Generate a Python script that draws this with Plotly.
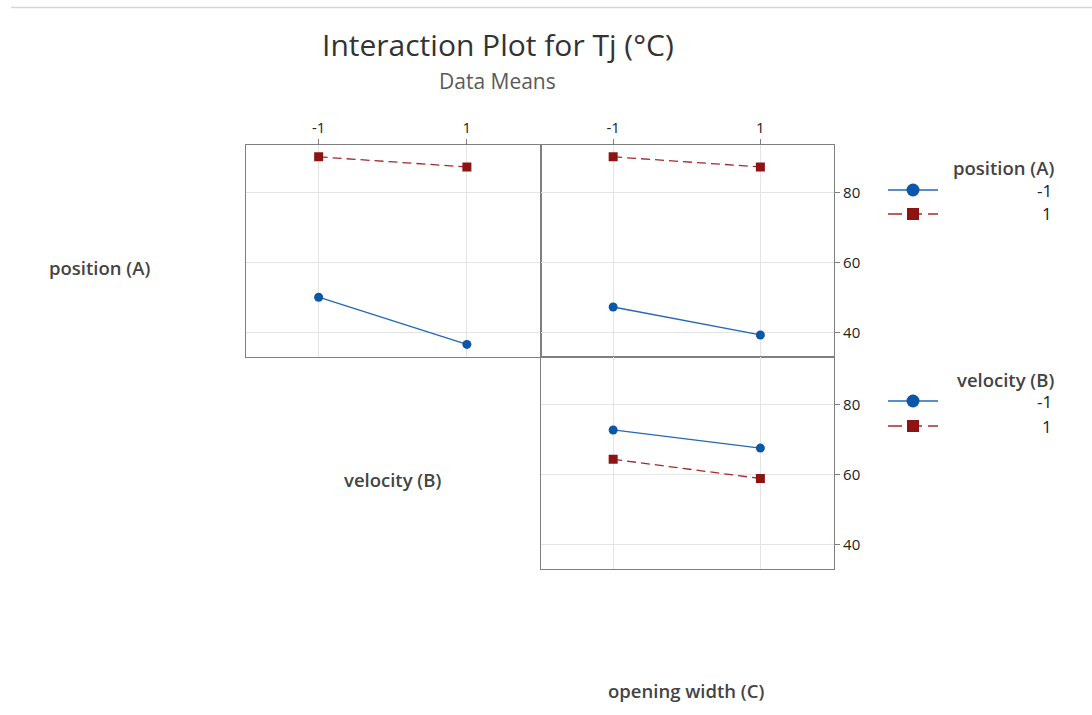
import plotly.graph_objects as go

# ---- data: factor levels and cell means of Tj (°C) ----
levels = [-1, 1]
level_labels = ["-1", "1"]

# position (A) traces across velocity (B)
ab_pos_lo = [50.1, 36.6]
ab_pos_hi = [90.3, 87.4]
# position (A) traces across opening width (C)
ac_pos_lo = [47.3, 39.3]
ac_pos_hi = [90.3, 87.4]
# velocity (B) traces across opening width (C)
bc_vel_lo = [72.8, 67.6]
bc_vel_hi = [64.4, 58.9]

y_ticks = [40, 60, 80]
y_range = [32.9, 93.6]
x_range = [-1.98, 2.0]

W, H = 1092, 715
FONT = "Open Sans"
BLUE = "#0a56a8"
BLUE_LINE = "#2568b5"
RED = "#8e1414"
RED_LINE = "#a42a2a"
BORDER = "#7f7f7f"
GRID = "#e4e4e4"


def px(x):
    return x / W


def py(y):
    return 1 - y / H


# panel edges in pixels
col_l = (246, 541)
col_r = (541, 834)
row_t = (145.3, 357.3)
row_b = (357.3, 569.3)

fig = go.Figure()


def add_pair(xa, ya, lo, hi):
    fig.add_trace(go.Scatter(
        x=levels, y=lo, xaxis=xa, yaxis=ya, mode="lines+markers",
        line=dict(color=BLUE_LINE, width=1.3),
        marker=dict(symbol="circle", size=9, color=BLUE),
        showlegend=False, hoverinfo="x+y"))
    fig.add_trace(go.Scatter(
        x=levels, y=hi, xaxis=xa, yaxis=ya, mode="lines+markers",
        line=dict(color=RED_LINE, width=1.3, dash="9px,5px"),
        marker=dict(symbol="square", size=9, color=RED),
        showlegend=False, hoverinfo="x+y"))


add_pair("x", "y", ab_pos_lo, ab_pos_hi)
add_pair("x2", "y2", ac_pos_lo, ac_pos_hi)
add_pair("x3", "y3", bc_vel_lo, bc_vel_hi)

# legend keys drawn on an overlay axis measured in pixels
legend_groups = [
    ("position (A)", 167, 190, 214),
    ("velocity (B)", 379, 401, 426),
]
key_x = [888, 938]
key_mid = 913
for title, ty, y_lo, y_hi in legend_groups:
    fig.add_trace(go.Scatter(
        x=key_x, y=[y_lo, y_lo], xaxis="x4", yaxis="y4", mode="lines",
        line=dict(color=BLUE_LINE, width=1.3), showlegend=False, hoverinfo="skip"))
    fig.add_trace(go.Scatter(
        x=[key_mid], y=[y_lo], xaxis="x4", yaxis="y4", mode="markers",
        marker=dict(symbol="circle", size=13, color=BLUE), showlegend=False, hoverinfo="skip"))
    fig.add_trace(go.Scatter(
        x=key_x, y=[y_hi, y_hi], xaxis="x4", yaxis="y4", mode="lines",
        line=dict(color=RED_LINE, width=1.3, dash="14px,6px"), showlegend=False, hoverinfo="skip"))
    fig.add_trace(go.Scatter(
        x=[key_mid], y=[y_hi], xaxis="x4", yaxis="y4", mode="markers",
        marker=dict(symbol="square", size=12, color=RED), showlegend=False, hoverinfo="skip"))

tick_font = dict(family=FONT, size=15, color="#222222")

common_x = dict(range=x_range, tickvals=levels, ticktext=level_labels,
                showgrid=True, gridcolor=GRID, gridwidth=1, zeroline=False,
                showline=True, mirror=True, linecolor=BORDER, linewidth=1.2,
                tickfont=tick_font, ticklen=5, tickcolor=BORDER, fixedrange=True)
common_y = dict(range=y_range, tickvals=y_ticks,
                showgrid=True, gridcolor=GRID, gridwidth=1, zeroline=False,
                showline=True, mirror=True, linecolor=BORDER, linewidth=1.2,
                tickfont=tick_font, ticklen=5, tickcolor=BORDER, fixedrange=True)

fig.update_layout(
    width=W, height=H,
    margin=dict(l=0, r=0, t=0, b=0),
    paper_bgcolor="white", plot_bgcolor="rgba(0,0,0,0)",
    showlegend=False,
    xaxis=dict(common_x, domain=[px(col_l[0]), px(col_l[1])], side="top",
               ticks="outside", anchor="y"),
    yaxis=dict(common_y, domain=[py(row_t[1]), py(row_t[0])],
               showticklabels=False, ticks="", anchor="x"),
    xaxis2=dict(common_x, domain=[px(col_r[0]), px(col_r[1])], side="top",
                ticks="outside", anchor="y2"),
    yaxis2=dict(common_y, domain=[py(row_t[1]), py(row_t[0])], side="right",
                ticks="outside", anchor="x2"),
    xaxis3=dict(common_x, domain=[px(col_r[0]), px(col_r[1])],
                showticklabels=False, ticks="", anchor="y3"),
    yaxis3=dict(common_y, domain=[py(row_b[1]), py(row_b[0])], side="right",
                ticks="outside", anchor="x3"),
    xaxis4=dict(domain=[0, 1], range=[0, W], visible=False, fixedrange=True, anchor="y4"),
    yaxis4=dict(domain=[0, 1], range=[H, 0], visible=False, fixedrange=True, anchor="x4"),
)

label_font = dict(family=FONT, size=18.5, color="#444444", weight=600)
annotations = [
    dict(text="Interaction Plot for Tj (°C)", x=px(497.5), y=py(45),
         font=dict(family=FONT, size=30, color="#333333")),
    dict(text="Data Means", x=px(497.5), y=py(81),
         font=dict(family=FONT, size=21, color="#5a5a5a")),
    dict(text="position (A)", x=px(99), y=py(268), font=label_font),
    dict(text="velocity (B)", x=px(392), y=py(479), font=label_font),
    dict(text="opening width (C)", x=px(685.5), y=py(690), font=label_font),
]
for title, ty, y_lo, y_hi in legend_groups:
    annotations.append(dict(text=title, x=px(1056), y=py(ty), xanchor="right",
                            font=label_font))
    annotations.append(dict(text="-1", x=px(1054), y=py(y_lo), xanchor="right",
                            font=dict(family=FONT, size=17, color="#222222")))
    annotations.append(dict(text="1", x=px(1054), y=py(y_hi), xanchor="right",
                            font=dict(family=FONT, size=17, color="#222222")))

for a in annotations:
    a.setdefault("xanchor", "center")
    a.update(xref="paper", yref="paper", yanchor="middle", showarrow=False)
fig.update_layout(annotations=annotations)

# thin rule along the top edge
fig.add_shape(type="line", xref="paper", yref="paper",
              x0=px(11), x1=1, y0=py(7.5), y1=py(7.5),
              line=dict(color="#d6d6d6", width=1.5))

fig.write_html("out.html")
